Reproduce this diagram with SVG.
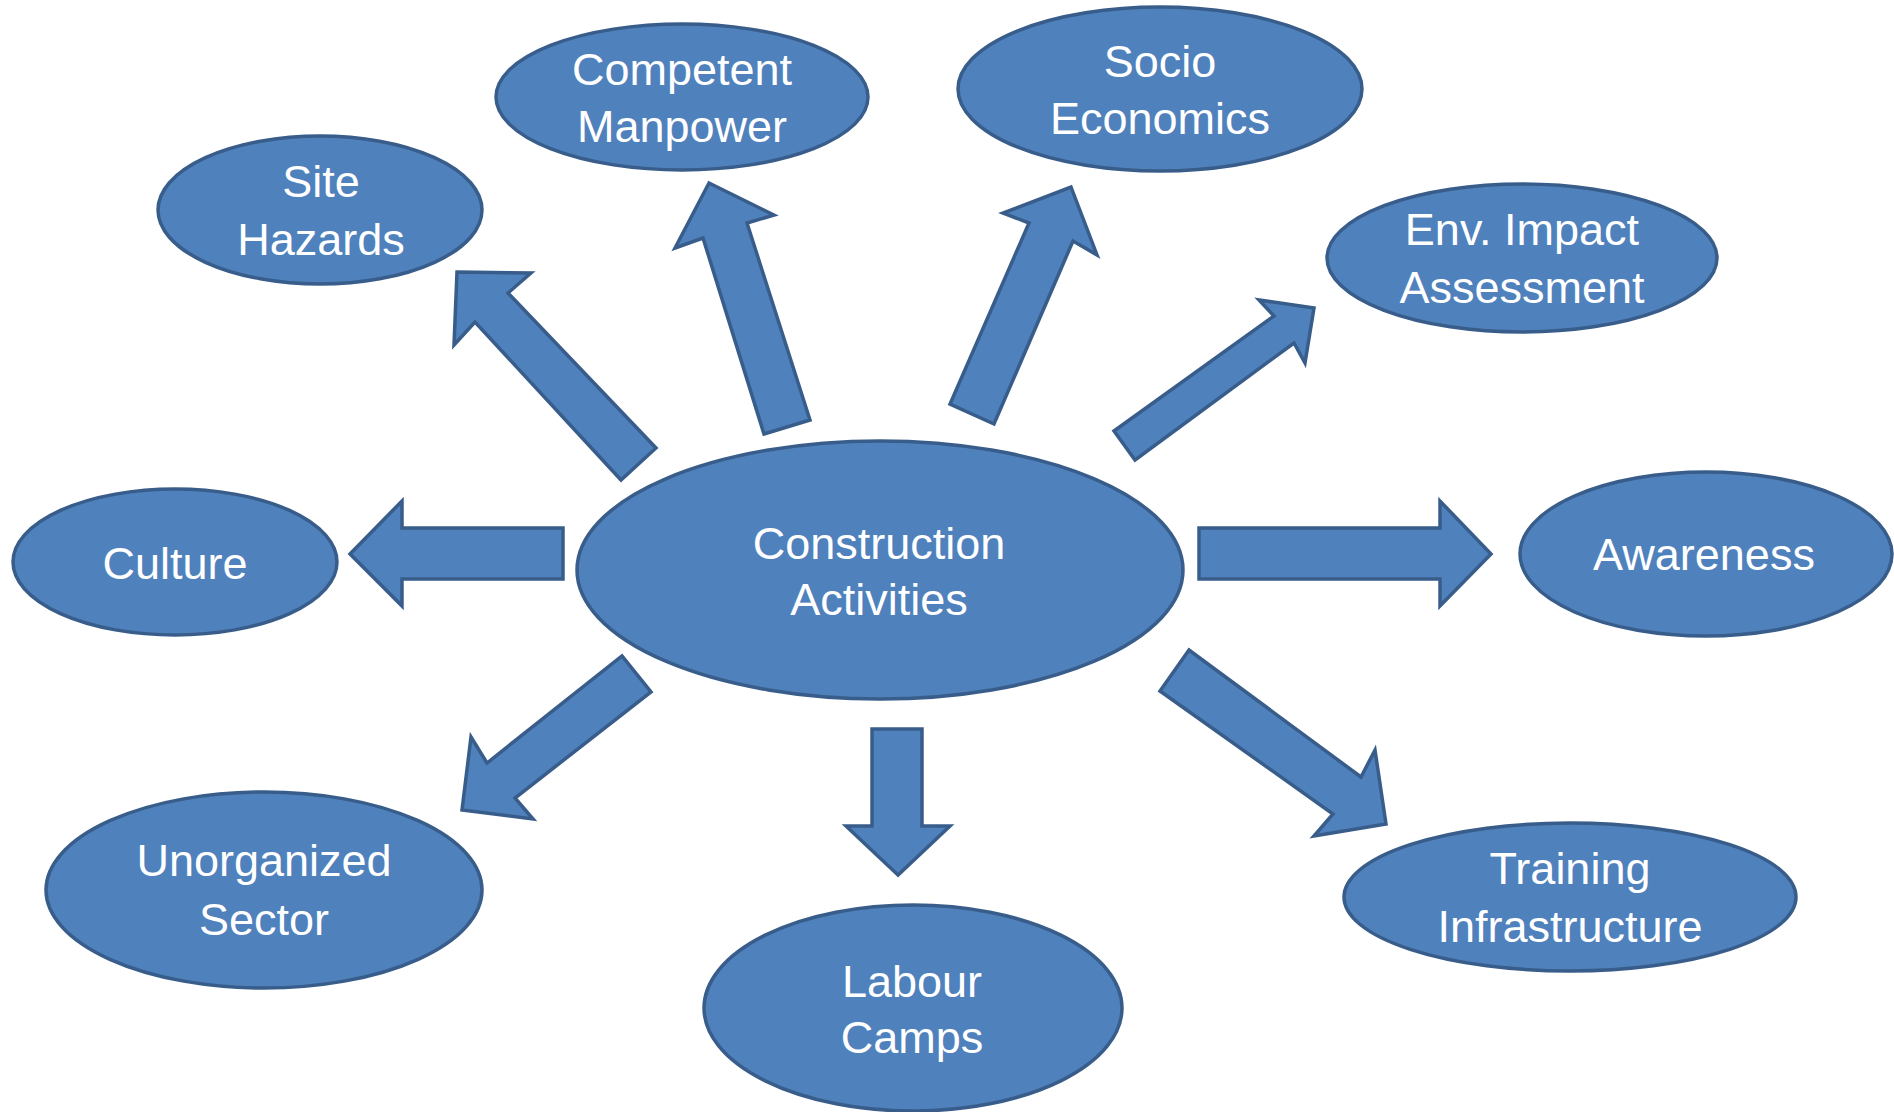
<svg xmlns="http://www.w3.org/2000/svg" width="1894" height="1112" viewBox="0 0 1894 1112">
<style>
.n{fill:#4F81BD;stroke:#385D8A;stroke-width:3.5}
.a{fill:#4F81BD;stroke:#385D8A;stroke-width:3.5;stroke-linejoin:miter}
.t{font-family:"Liberation Sans",Arial,sans-serif;font-size:45px;fill:#FFFFFF;text-anchor:middle}
</style>
<rect width="1894" height="1112" fill="#FFFFFF"/>
<g id="connectors">
<polygon class="a" points="457,272 531,273 508,293 656,448 621,480 475,322 454,345"/>
<polygon class="a" points="709,183 774,215 747,223 810,420 764,434 703,238 675,248"/>
<polygon class="a" points="1071,187 1097,255 1073,241 994,424 950,404 1029,223 1003,213"/>
<polygon class="a" points="1314,308 1305,363 1294,343 1135,460 1114,431 1274,316 1259,300"/>
<polygon class="a" points="1491,554 1440,606 1440,579 1199,579 1199,528 1440,528 1440,501"/>
<polygon class="a" points="1386,824 1314,836 1333,814 1160,691 1189,650 1361,777 1375,750"/>
<polygon class="a" points="898,875 846,826 872,826 872,729 922,729 922,826 950,826"/>
<polygon class="a" points="462,810 471,737 487,763 622,656 651,692 515,798 533,819"/>
<polygon class="a" points="350,554 402,501 402,528 563,528 563,579 402,579 402,606"/>
</g>
<g id="construction-activities">
<ellipse class="n" cx="880" cy="570" rx="303" ry="129"/>
<text class="t" x="879" y="559">Construction</text>
<text class="t" x="879" y="615">Activities</text>
</g>
<g id="competent-manpower">
<ellipse class="n" cx="682" cy="97" rx="186" ry="73"/>
<text class="t" x="682" y="85">Competent</text>
<text class="t" x="682" y="142">Manpower</text>
</g>
<g id="site-hazards">
<ellipse class="n" cx="320" cy="210" rx="162" ry="74"/>
<text class="t" x="321" y="197">Site</text>
<text class="t" x="321" y="255">Hazards</text>
</g>
<g id="culture">
<ellipse class="n" cx="175" cy="562" rx="162" ry="73"/>
<text class="t" x="175" y="579">Culture</text>
</g>
<g id="socio-economics">
<ellipse class="n" cx="1160" cy="89" rx="202" ry="82"/>
<text class="t" x="1160" y="77">Socio</text>
<text class="t" x="1160" y="134">Economics</text>
</g>
<g id="env-impact-assessment">
<ellipse class="n" cx="1522" cy="258" rx="195" ry="74"/>
<text class="t" x="1522" y="245">Env. Impact</text>
<text class="t" x="1522" y="303">Assessment</text>
</g>
<g id="awareness">
<ellipse class="n" cx="1706" cy="554" rx="186" ry="82"/>
<text class="t" x="1704" y="570">Awareness</text>
</g>
<g id="training-infrastructure">
<ellipse class="n" cx="1570" cy="897" rx="226" ry="74"/>
<text class="t" x="1570" y="884">Training</text>
<text class="t" x="1570" y="942">Infrastructure</text>
</g>
<g id="labour-camps">
<ellipse class="n" cx="913" cy="1008" rx="209" ry="103"/>
<text class="t" x="912" y="997">Labour</text>
<text class="t" x="912" y="1053">Camps</text>
</g>
<g id="unorganized-sector">
<ellipse class="n" cx="264" cy="890" rx="218" ry="98"/>
<text class="t" x="264" y="876">Unorganized</text>
<text class="t" x="264" y="935">Sector</text>
</g>
</svg>
